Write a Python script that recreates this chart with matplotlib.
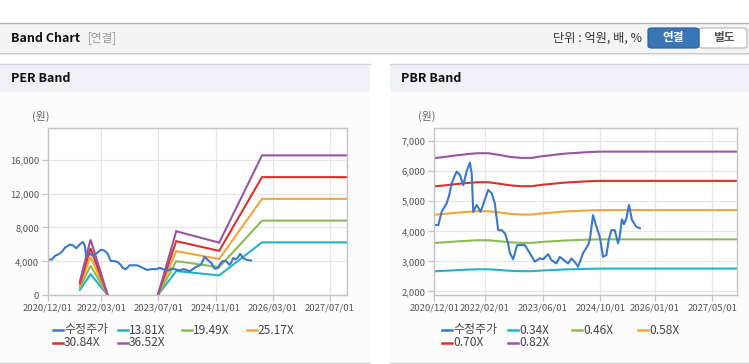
import matplotlib

matplotlib.use("Agg")
import matplotlib.dates as mdates
import matplotlib.pyplot as plt
import numpy as np
import pandas as pd
from matplotlib.lines import Line2D
from matplotlib.patches import FancyBboxPatch, Rectangle

plt.rcParams["font.family"] = ["Noto Sans CJK KR", "DejaVu Sans"]

W, H = 749, 364

# 수정주가 (adjusted close), shared by both panels
price_dates = [
    "2020-12-01", "2021-01-04", "2021-02-01", "2021-03-15", "2021-04-06", "2021-04-26",
    "2021-06-07", "2021-07-05", "2021-08-02", "2021-08-30", "2021-09-27", "2021-10-12",
    "2021-10-25", "2021-11-23", "2021-12-26", "2022-01-25", "2022-02-28", "2022-03-29",
    "2022-04-25", "2022-05-23", "2022-06-21", "2022-07-19", "2022-08-15", "2022-08-30",
    "2022-09-26", "2022-10-30", "2022-12-06", "2023-01-03", "2023-02-14", "2023-03-28",
    "2023-05-09", "2023-06-06", "2023-07-18", "2023-08-15", "2023-09-26", "2023-10-24",
    "2023-12-05", "2024-01-02", "2024-01-31", "2024-03-04", "2024-03-26", "2024-05-07",
    "2024-06-18", "2024-07-03", "2024-07-30", "2024-08-28", "2024-09-25", "2024-10-22",
    "2024-11-20", "2024-12-09", "2025-01-01", "2025-01-29", "2025-02-26", "2025-03-12",
    "2025-03-31", "2025-04-17", "2025-05-07", "2025-05-29", "2025-06-23", "2025-07-30",
    "2025-08-30",
]
price = [
    4210, 4210, 4650, 4930, 5210, 5600,
    5990, 5880, 5540, 5990, 6290, 5930,
    4650, 4880, 4650, 4990, 5380, 5270,
    4930, 4040, 4040, 3930, 3600, 3270,
    3070, 3540, 3540, 3540, 3270, 2990,
    3100, 3070, 3240, 3040, 2930, 3150,
    3020, 2930, 3100, 2950, 2820, 3270,
    3540, 3710, 4540, 4150, 3820, 3150,
    3210, 3710, 4040, 4040, 3600, 3820,
    4400, 4240, 4430, 4880, 4380, 4150,
    4100,
]

# PER band: EPS basis (gap where EPS is not positive)
eps_dates = ["2021-09-01", "2021-12-01", "2022-04-27", "2022-04-28",
             "2023-07-01", "2023-12-01", "2024-12-01", "2025-12-01", "2027-12-31"]
eps = [45, 180, 0, np.nan, 5, 207, 170, 452, 452]
per_multiples = [13.81, 19.49, 25.17, 30.84, 36.52]

# PBR band: BPS basis
bps_dates = ["2020-12-01", "2021-03-01", "2021-06-01", "2021-09-01", "2021-12-01",
             "2022-03-01", "2022-06-01", "2022-09-01", "2022-12-01", "2023-03-01",
             "2023-06-01", "2023-09-01", "2023-12-01", "2024-03-01", "2024-06-01",
             "2024-09-01", "2024-12-01", "2027-12-31"]
bps = [7850, 7900, 7960, 8010, 8050,
       8050, 7980, 7900, 7860, 7860,
       7930, 7980, 8030, 8060, 8090,
       8110, 8115, 8115]
pbr_multiples = [0.34, 0.46, 0.58, 0.70, 0.82]

per_ticks = ["2020-12-01", "2022-03-01", "2023-07-01", "2024-11-01", "2026-03-01", "2027-07-01"]
pbr_ticks = ["2020-12-01", "2022-02-01", "2023-06-01", "2024-10-01", "2026-01-01", "2027-05-01"]
per_yticks = [0, 4000, 8000, 12000, 16000]
pbr_yticks = [2000, 3000, 4000, 5000, 6000, 7000]

price_color = "#3a78c8"
band_colors = ["#1fb4c8", "#8cbb55", "#f5a535", "#d8312b", "#9a55a0"]

x_start, x_end = pd.Timestamp("2020-12-01"), pd.Timestamp("2027-11-25")


def fx(x):
    return x / W


def fy(y):
    return 1 - y / H


def rect(fig, x0, y0, x1, y1, **kw):
    fig.patches.append(Rectangle((fx(x0), fy(y1)), fx(x1) - fx(x0), fy(y0) - fy(y1),
                                 transform=fig.transFigure, zorder=-5, **kw))


def hline(fig, x0, x1, y, color, lw=1.0):
    fig.add_artist(Line2D([fx(x0), fx(x1)], [fy(y), fy(y)], color=color, lw=lw,
                          transform=fig.transFigure, zorder=-4))


def style_axes(ax, ticks, yticks, ylim):
    ax.set_xlim(x_start, x_end)
    ax.set_ylim(*ylim)
    ax.set_xticks(pd.to_datetime(ticks))
    ax.xaxis.set_major_formatter(mdates.DateFormatter("%Y/%m/%d"))
    ax.set_yticks(yticks)
    ax.set_yticklabels([f"{v:,}" for v in yticks])
    ax.grid(color="#e6e6e6", lw=0.9)
    ax.set_axisbelow(True)
    for side in ax.spines.values():
        side.set_color("#c4c4c4")
        side.set_linewidth(1.0)
    ax.tick_params(axis="both", colors="#c4c4c4", labelcolor="#555555",
                   labelsize=6.8, length=4, width=0.9, pad=2)
    ax.set_facecolor("white")


def legend(fig, x_cols, rows, labels, colors):
    for i, (label, color) in enumerate(zip(labels, colors)):
        x = x_cols[i % 4]
        y = rows[i // 4]
        fig.add_artist(Line2D([fx(x), fx(x + 10)], [fy(y), fy(y)], color=color, lw=1.8,
                              transform=fig.transFigure))
        fig.text(fx(x + 11), fy(y), label, fontsize=8.6, color="#444444",
                 va="center", ha="left")


fig = plt.figure(figsize=(W / 100, H / 100), dpi=100)
fig.patch.set_facecolor("white")

# top header bar
rect(fig, 0, 23, 749, 52, facecolor="#f4f4f4", edgecolor="none")
hline(fig, 0, 749, 22.5, "#b4b4b4")
hline(fig, 0, 749, 52.5, "#c6c6c6")
hline(fig, 0, 749, 53.5, "#e6e6e6")
fig.text(fx(11), fy(38), "Band Chart", fontsize=9, fontweight="bold", color="#111111", va="center")
fig.text(fx(88), fy(38), "[연결]", fontsize=8.4, color="#999999", va="center")
fig.text(fx(642), fy(38), "단위 : 억원, 배, %", fontsize=8.8, color="#333333", va="center", ha="right")
fig.patches.append(FancyBboxPatch((fx(699), fy(48)), fx(48), fy(28) - fy(48),
                                  boxstyle="round,pad=0,rounding_size=0.006",
                                  transform=fig.transFigure, facecolor="white",
                                  edgecolor="#bcbcbc", lw=0.9))
fig.patches.append(FancyBboxPatch((fx(648), fy(48)), fx(51), fy(28) - fy(48),
                                  boxstyle="round,pad=0,rounding_size=0.006",
                                  transform=fig.transFigure, facecolor="#3876b8",
                                  edgecolor="#2d66a3", lw=0.9))
fig.text(fx(673.5), fy(38), "연결", fontsize=8.4, fontweight="bold", color="white", ha="center", va="center")
fig.text(fx(723.5), fy(38), "별도", fontsize=8.4, fontweight="bold", color="#555555", ha="center", va="center")

# panels
for x0, x1, title in [(0, 370, "PER Band"), (390, 749, "PBR Band")]:
    rect(fig, x0, 92, x1, 362, facecolor="#fcfcfc", edgecolor="none")
    rect(fig, x0, 64, x1, 92, facecolor="#eef2f7", edgecolor="none")
    hline(fig, x0, x1, 63.5, "#d4d4d4")
    hline(fig, x0, x1, 362.5, "#d4d4d4")
    fig.text(fx(x0 + 11), fy(79), title, fontsize=9, fontweight="bold", color="#111111", va="center")

# PER chart
ax1 = fig.add_axes([fx(47.7), fy(295.3), fx(347) - fx(47.7), fy(128.3) - fy(295.3)])
style_axes(ax1, per_ticks, per_yticks, (0, 19700))
ed = pd.to_datetime(eps_dates)
ea = np.array(eps, dtype=float)
for mult, color in zip(per_multiples, band_colors):
    ax1.plot(ed, ea * mult, color=color, lw=1.5, solid_joinstyle="miter")
ax1.plot(pd.to_datetime(price_dates), price, color=price_color, lw=1.5)
fig.text(fx(32), fy(116), "(원)", fontsize=7.8, color="#666666", va="center")

# PBR chart
ax2 = fig.add_axes([fx(434.3), fy(295.3), fx(737) - fx(434.3), fy(128.3) - fy(295.3)])
style_axes(ax2, pbr_ticks, pbr_yticks, (1870, 7430))
bd = pd.to_datetime(bps_dates)
ba = np.array(bps, dtype=float)
for mult, color in zip(pbr_multiples, band_colors):
    ax2.plot(bd, ba * mult, color=color, lw=1.5)
ax2.plot(pd.to_datetime(price_dates), price, color=price_color, lw=1.5)
fig.text(fx(418), fy(116), "(원)", fontsize=7.8, color="#666666", va="center")

# legends
per_labels = ["수정주가"] + [f"{m:.2f}X" for m in per_multiples]
pbr_labels = ["수정주가"] + [f"{m:.2f}X" for m in pbr_multiples]
colors = [price_color] + band_colors
legend(fig, [53, 118, 182, 247], [330, 343], per_labels, colors)
legend(fig, [442, 508, 572, 638], [330, 343], pbr_labels, colors)

fig.savefig("out.png", dpi=100)
